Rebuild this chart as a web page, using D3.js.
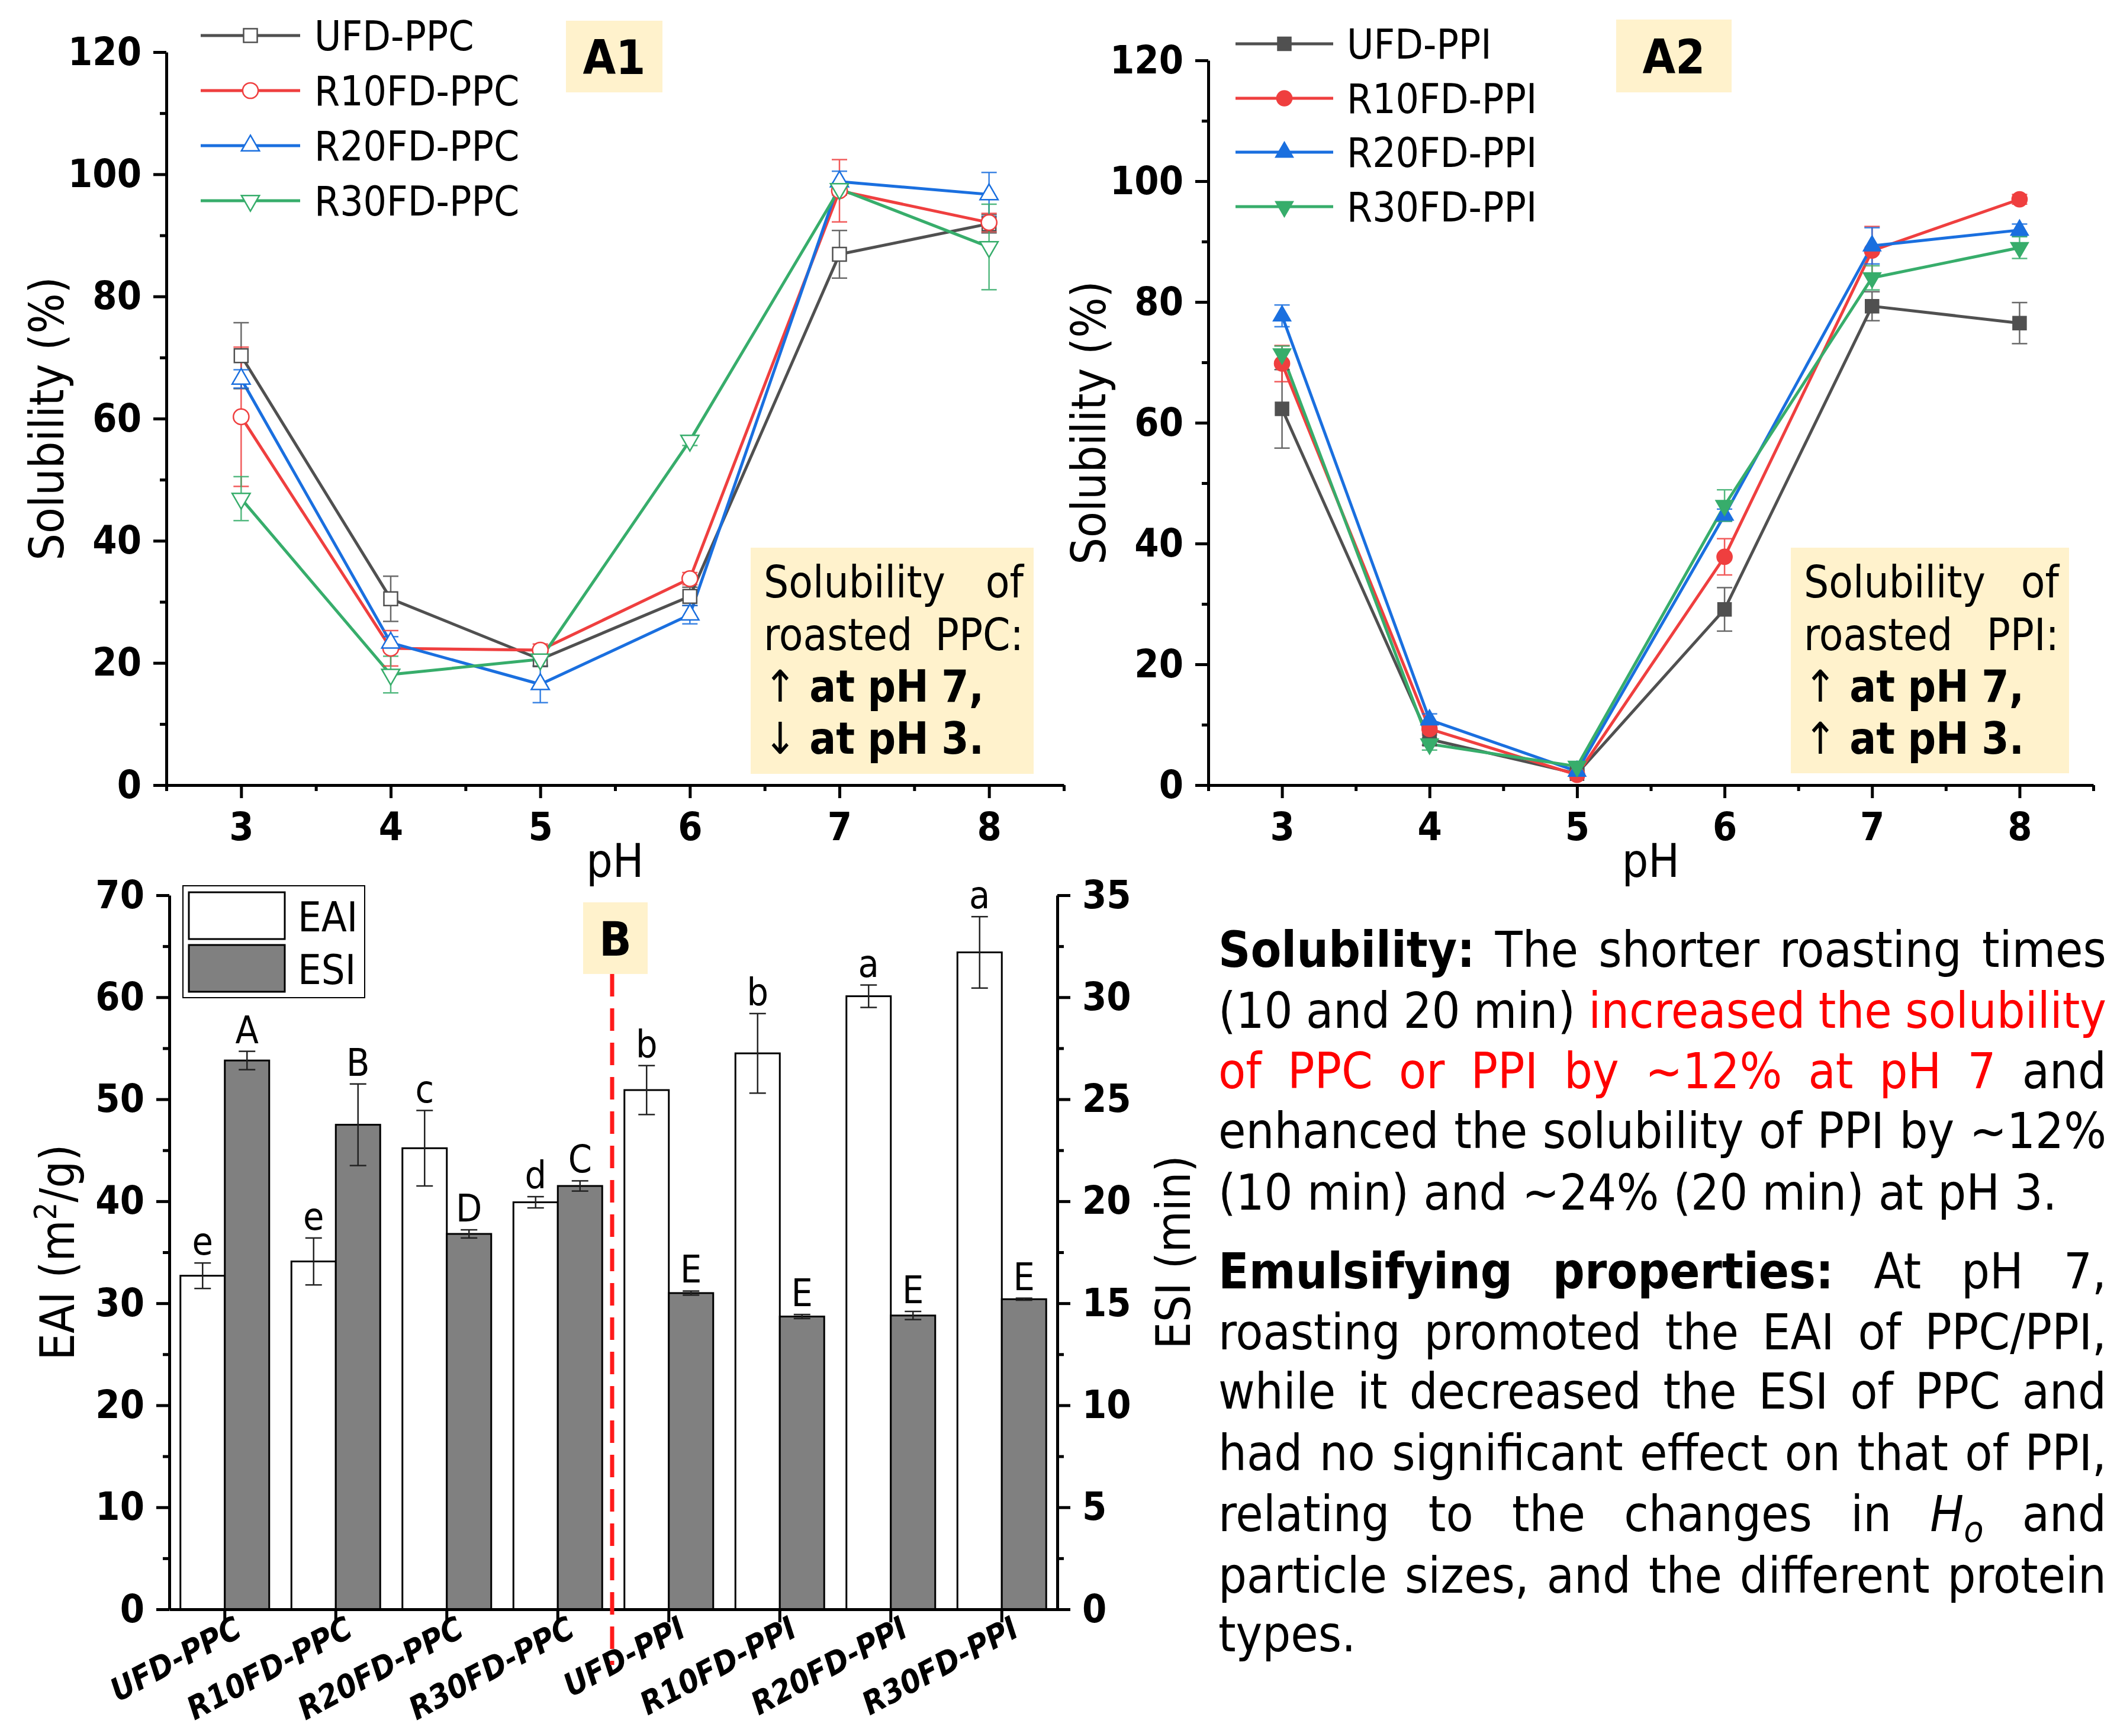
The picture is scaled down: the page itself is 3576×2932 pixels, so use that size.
<!DOCTYPE html>
<html>
<head>
<meta charset="utf-8">
<script src="https://cdn.jsdelivr.net/npm/d3@7"></script>
<style>
  body { margin: 0; background: #fff; }
  svg text { font-family: 'DejaVu Sans Condensed', 'DejaVu Sans', sans-serif; font-stretch: condensed; }
</style>
</head>
<body>
<svg id="fig" width="3576" height="2932"></svg>
<script>
// ---- data ----
const pH = [3, 4, 5, 6, 7, 8];

const ppcNames = ["UFD-PPC", "R10FD-PPC", "R20FD-PPC", "R30FD-PPC"];
const ppcMeans = [
  [70.3, 30.5, 20.6, 30.9, 86.9, 91.9],
  [60.3, 22.4, 22.1, 33.8, 97.3, 92.1],
  [66.5, 23.3, 16.5, 27.9, 98.8, 96.7],
  [46.9, 18.1, 20.6, 56.4, 97.6, 88.1]
];
const ppcErrs = [
  [5.4, 3.7, 1.2, 1.5, 3.9, 1.5],
  [11.4, 2.9, 1.0, 1.0, 5.1, 1.5],
  [1.5, 1.0, 3.0, 1.5, 1.7, 3.6],
  [3.6, 3.0, 1.0, 0.8, 1.0, 7.0]
];

const ppiNames = ["UFD-PPI", "R10FD-PPI", "R20FD-PPI", "R30FD-PPI"];
const ppiMeans = [
  [62.3, 7.6, 1.9, 29.1, 79.3, 76.5],
  [69.8, 9.3, 1.7, 37.8, 88.5, 97.0],
  [77.7, 10.8, 2.3, 44.7, 89.3, 91.9],
  [71.4, 6.8, 3.1, 46.3, 84.0, 89.0]
];
const ppiErrs = [
  [6.5, 1.0, 0.5, 3.6, 2.4, 3.4],
  [3.0, 1.0, 0.5, 3.0, 4.0, 0.8],
  [1.8, 1.0, 0.5, 1.0, 3.0, 1.0],
  [1.3, 1.0, 0.5, 2.6, 2.0, 1.8]
];

const samples = ["UFD-PPC", "R10FD-PPC", "R20FD-PPC", "R30FD-PPC", "UFD-PPI", "R10FD-PPI", "R20FD-PPI", "R30FD-PPI"];
const eai = [32.7, 34.1, 45.2, 39.9, 50.9, 54.5, 60.1, 64.4];
const eaiErr = [1.25, 2.3, 3.7, 0.55, 2.4, 3.9, 1.1, 3.5];
const eaiLetters = ["e", "e", "c", "d", "b", "b", "a", "a"];
const esi = [26.9, 23.75, 18.4, 20.75, 15.5, 14.35, 14.4, 15.2];
const esiErr = [0.45, 2.0, 0.2, 0.25, 0.1, 0.1, 0.2, 0.05];
const esiLetters = ["A", "B", "D", "C", "E", "E", "E", "E"];

const seriesColors = ["#505050", "#ef3f3f", "#1a6fdf", "#37ad6b"];
const markerTypes = ["square", "circle", "up", "down"];

const svg = d3.select("#fig");
svg.append("rect").attr("width", 3576).attr("height", 2932).attr("fill", "#fff");

const TICK_FS = 66;
const BOX_FILL = "#fff2cc";

function marker(g, type, x, y, color, filled) {
  let sym;
  if (type === "square") sym = d3.symbol(d3.symbolSquare, 530);
  else if (type === "circle") sym = d3.symbol(d3.symbolCircle, 540);
  else sym = d3.symbol(d3.symbolTriangle, 400);
  g.append("path")
    .attr("d", sym())
    .attr("transform", "translate(" + x + "," + y + ")" + (type === "down" ? " rotate(180)" : ""))
    .attr("fill", filled ? color : "#fff")
    .attr("stroke", color)
    .attr("stroke-width", filled ? 1.5 : 2.5);
}

function styleAxis(sel, fs) {
  sel.select(".domain").attr("stroke-width", 5).attr("stroke", "#000");
  sel.selectAll(".tick line").attr("stroke-width", 5).attr("stroke", "#000");
  sel.selectAll(".tick text").attr("font-size", fs).attr("font-weight", "bold").attr("fill", "#000");
}

// split styled segments into words for justified layout
function toWords(segs) {
  const words = [[]];
  segs.forEach(([txt, st]) => {
    txt.split(/( )/).forEach(p => {
      if (p === " ") { if (words[words.length - 1].length) words.push([]); }
      else if (p) words[words.length - 1].push(Object.assign({t: p}, st || {}));
    });
  });
  return words.filter(w => w.length);
}

function textLine(g, segs, x0, x1, y, size, justify) {
  const words = toWords(segs);
  const nodes = words.map(w => {
    const t = g.append("text").attr("y", y).attr("font-size", size).attr("fill", "#000");
    w.forEach(s => {
      const ts = t.append("tspan").text(s.t);
      if (s.b) ts.attr("font-weight", "bold");
      if (s.c) ts.attr("fill", s.c);
      if (s.i) ts.attr("font-style", "italic");
      if (s.sub) ts.attr("font-size", size * 0.72).attr("dy", size * 0.22);
    });
    return t;
  });
  const widths = nodes.map(n => n.node().getComputedTextLength());
  const total = d3.sum(widths);
  const gap = (justify && nodes.length > 1) ? (x1 - x0 - total) / (nodes.length - 1) : size * 0.29;
  let x = x0;
  nodes.forEach((n, i) => { n.attr("x", x); x += widths[i] + gap; });
}

function tagBox(x0, y0, x1, y1, label) {
  svg.append("rect").attr("x", x0).attr("y", y0).attr("width", x1 - x0).attr("height", y1 - y0).attr("fill", BOX_FILL);
  svg.append("text").attr("x", (x0 + x1) / 2).attr("y", (y0 + y1) / 2 + 29)
    .attr("text-anchor", "middle").attr("font-size", 80).attr("font-weight", "bold").text(label);
}

// ---- solubility panels ----
function solubilityPanel(cfg) {
  const g = svg.append("g");
  const x = d3.scaleLinear().domain([2.5, 8.5]).range([cfg.x0, cfg.x1]);
  const y = d3.scaleLinear().domain([0, 120]).range([cfg.yBot, cfg.yTop]);

  // minor ticks
  g.append("g").attr("transform", "translate(0," + cfg.yBot + ")")
    .call(d3.axisBottom(x).tickValues([2.5, 3.5, 4.5, 5.5, 6.5, 7.5, 8.5]).tickFormat("").tickSize(10).tickSizeOuter(0))
    .call(s => { s.select(".domain").remove(); s.selectAll("line").attr("stroke-width", 5); });
  g.append("g").attr("transform", "translate(" + cfg.x0 + ",0)")
    .call(d3.axisLeft(y).tickValues([10, 30, 50, 70, 90, 110]).tickFormat("").tickSize(11).tickSizeOuter(0))
    .call(s => { s.select(".domain").remove(); s.selectAll("line").attr("stroke-width", 5); });

  const xa = g.append("g").attr("transform", "translate(0," + cfg.yBot + ")")
    .call(d3.axisBottom(x).tickValues(pH).tickFormat(d3.format("d")).tickSize(22).tickSizeOuter(0).tickPadding(24));
  styleAxis(xa, TICK_FS);
  const ya = g.append("g").attr("transform", "translate(" + cfg.x0 + ",0)")
    .call(d3.axisLeft(y).tickValues([0, 20, 40, 60, 80, 100, 120]).tickSize(22).tickSizeOuter(0).tickPadding(20));
  styleAxis(ya, TICK_FS);

  g.append("text").attr("x", (cfg.x0 + cfg.x1) / 2).attr("y", cfg.yBot + 155)
    .attr("text-anchor", "middle").attr("font-size", 78).text("pH");
  g.append("text").attr("transform", "translate(" + cfg.titleX + "," + (cfg.yTop + cfg.yBot) / 2 + ") rotate(-90)")
    .attr("text-anchor", "middle").attr("font-size", 80).text("Solubility (%)");

  const line = d3.line().x((d, i) => x(pH[i])).y(d => y(d));
  cfg.means.forEach((m, s) => {
    g.append("path").attr("d", line(m)).attr("fill", "none")
      .attr("stroke", seriesColors[s]).attr("stroke-width", 5).attr("stroke-linejoin", "round");
  });
  cfg.means.forEach((m, s) => {
    m.forEach((v, i) => {
      const cx = x(pH[i]), e = cfg.errs[s][i];
      const eg = g.append("g").attr("stroke", seriesColors[s]).attr("stroke-width", 2.5).attr("opacity", 0.85);
      eg.append("line").attr("x1", cx).attr("x2", cx).attr("y1", y(v - e)).attr("y2", y(v + e));
      [v - e, v + e].forEach(b => eg.append("line").attr("x1", cx - 13).attr("x2", cx + 13).attr("y1", y(b)).attr("y2", y(b)));
    });
  });
  cfg.means.forEach((m, s) => {
    m.forEach((v, i) => marker(g, markerTypes[s], x(pH[i]), y(v), seriesColors[s], cfg.filled));
  });

  // legend
  cfg.names.forEach((n, s) => {
    const ly = cfg.legY[s];
    g.append("line").attr("x1", cfg.legX[0]).attr("x2", cfg.legX[1]).attr("y1", ly).attr("y2", ly)
      .attr("stroke", seriesColors[s]).attr("stroke-width", 5);
    marker(g, markerTypes[s], (cfg.legX[0] + cfg.legX[1]) / 2, ly, seriesColors[s], cfg.filled);
    g.append("text").attr("x", cfg.legX[2]).attr("y", ly + 25).attr("font-size", 69).text(n);
  });

  // note box
  const b = cfg.note;
  g.append("rect").attr("x", b.x0).attr("y", b.y0).attr("width", b.x1 - b.x0).attr("height", b.y1 - b.y0).attr("fill", BOX_FILL);
  const tl = b.x0 + 22, tr = b.x1 - 17, fs = 74;
  textLine(g, [["Solubility of"]], tl, tr, 1009, fs, true);
  textLine(g, [["roasted " + cfg.kind + ":"]], tl, tr, 1098, fs, true);
  textLine(g, [["↑ "], ["at pH 7,", {b: true}]], tl, tr, 1185, fs, false);
  textLine(g, [[cfg.arrow3 + " "], ["at pH 3.", {b: true}]], tl, tr, 1273, fs, false);
}

solubilityPanel({
  x0: 281, x1: 1797, yTop: 88, yBot: 1326, titleX: 107,
  means: ppcMeans, errs: ppcErrs, names: ppcNames, filled: false,
  legX: [339, 507, 531], legY: [60, 153, 246, 339],
  note: {x0: 1268, y0: 925, x1: 1746, y1: 1307}, kind: "PPC", arrow3: "↓"
});
solubilityPanel({
  x0: 2041, x1: 3536, yTop: 102, yBot: 1326, titleX: 1867,
  means: ppiMeans, errs: ppiErrs, names: ppiNames, filled: true,
  legX: [2087, 2252, 2275], legY: [74, 166, 257, 349],
  note: {x0: 3025, y0: 925, x1: 3495, y1: 1306}, kind: "PPI", arrow3: "↑"
});
tagBox(956, 35, 1119, 156, "A1");
tagBox(2730, 33, 2925, 156, "A2");

// ---- emulsifying panel ----
(function () {
  const g = svg.append("g");
  const x0 = 286, x1 = 1786, yBot = 2718, yTop = 1512;
  const x = d3.scaleBand().domain(samples).range([x0, x1]);
  const yL = d3.scaleLinear().domain([0, 70]).range([yBot, yTop]);
  const yR = d3.scaleLinear().domain([0, 35]).range([yBot, yTop]);
  const bw = 75;

  // bars
  samples.forEach((s, i) => {
    const c = x(s) + x.bandwidth() / 2;
    g.append("rect").attr("x", c - bw).attr("y", yL(eai[i])).attr("width", bw).attr("height", yBot - yL(eai[i]))
      .attr("fill", "#fff").attr("stroke", "#000").attr("stroke-width", 3);
    g.append("rect").attr("x", c).attr("y", yR(esi[i])).attr("width", bw).attr("height", yBot - yR(esi[i]))
      .attr("fill", "#808080").attr("stroke", "#000").attr("stroke-width", 3);
    [[c - bw / 2, yL, eai[i], eaiErr[i], eaiLetters[i]], [c + bw / 2, yR, esi[i], esiErr[i], esiLetters[i]]].forEach(([cx, sc, v, e, lab]) => {
      const eg = g.append("g").attr("stroke", "#222").attr("stroke-width", 2.5);
      eg.append("line").attr("x1", cx).attr("x2", cx).attr("y1", sc(v - e)).attr("y2", sc(v + e));
      [v - e, v + e].forEach(b => eg.append("line").attr("x1", cx - 14).attr("x2", cx + 14).attr("y1", sc(b)).attr("y2", sc(b)));
      g.append("text").attr("x", cx).attr("y", sc(v + e) - 14).attr("text-anchor", "middle")
        .attr("font-size", 64).text(lab);
    });
  });

  // axes
  g.append("g").attr("transform", "translate(" + x0 + ",0)")
    .call(d3.axisLeft(yL).tickValues([5, 15, 25, 35, 45, 55, 65]).tickFormat("").tickSize(11).tickSizeOuter(0))
    .call(s => { s.select(".domain").remove(); s.selectAll("line").attr("stroke-width", 5); });
  g.append("g").attr("transform", "translate(" + x1 + ",0)")
    .call(d3.axisRight(yR).tickValues([2.5, 7.5, 12.5, 17.5, 22.5, 27.5, 32.5]).tickFormat("").tickSize(11).tickSizeOuter(0))
    .call(s => { s.select(".domain").remove(); s.selectAll("line").attr("stroke-width", 5); });
  const la = g.append("g").attr("transform", "translate(" + x0 + ",0)")
    .call(d3.axisLeft(yL).ticks(7).tickSize(22).tickSizeOuter(0).tickPadding(20));
  styleAxis(la, TICK_FS);
  const ra = g.append("g").attr("transform", "translate(" + x1 + ",0)")
    .call(d3.axisRight(yR).ticks(7).tickSize(22).tickSizeOuter(0).tickPadding(20));
  styleAxis(ra, TICK_FS);
  const xa = g.append("g").attr("transform", "translate(0," + yBot + ")")
    .call(d3.axisBottom(x).tickSize(22).tickSizeOuter(0));
  styleAxis(xa, 54);
  xa.selectAll(".tick text").attr("font-style", "italic").attr("text-anchor", "end")
    .attr("dy", 0).attr("y", 0).attr("transform", "translate(32,44) rotate(-28)");

  g.append("text").attr("transform", "translate(125," + (yTop + yBot) / 2 + ") rotate(-90)")
    .attr("text-anchor", "middle").attr("font-size", 80)
    .call(t => {
      t.append("tspan").text("EAI (m");
      t.append("tspan").text("2").attr("font-size", 52).attr("dy", -30);
      t.append("tspan").text("/g)").attr("dy", 30);
    });
  g.append("text").attr("transform", "translate(2010," + (yTop + yBot) / 2 + ") rotate(-90)")
    .attr("text-anchor", "middle").attr("font-size", 80).text("ESI (min)");

  // legend
  g.append("rect").attr("x", 309).attr("y", 1496).attr("width", 307).attr("height", 189)
    .attr("fill", "#fff").attr("stroke", "#000").attr("stroke-width", 2);
  [["EAI", "#fff", 1507], ["ESI", "#808080", 1596]].forEach(([lab, fill, ry]) => {
    g.append("rect").attr("x", 319).attr("y", ry).attr("width", 162).attr("height", 79)
      .attr("fill", fill).attr("stroke", "#000").attr("stroke-width", 3);
    g.append("text").attr("x", 503).attr("y", ry + 66).attr("font-size", 70).text(lab);
  });

  // divider
  const dx = x(samples[4]);
  g.append("line").attr("x1", dx - 2).attr("x2", dx - 2).attr("y1", 1645).attr("y2", 2812)
    .attr("stroke", "#ff1a1a").attr("stroke-width", 7).attr("stroke-dasharray", "38,20");
})();
tagBox(985, 1524, 1094, 1645, "B");

// ---- summary text ----
(function () {
  const g = svg.append("g");
  const L = 2058, R = 3558, fs = 84, red = "#ff0000";
  const lines = [
    [[[ "Solubility:", {b: true}], [" The shorter roasting times"]], 1633, true],
    [[["(10 and 20 min) "], ["increased the solubility", {c: red}]], 1736, true],
    [[["of PPC or PPI by ~12% at pH 7", {c: red}], [" and"]], 1838, true],
    [[["enhanced the solubility of PPI by ~12%"]], 1939, true],
    [[["(10 min) and ~24% (20 min) at pH 3."]], 2043, false],
    [[["Emulsifying properties:", {b: true}], [" At pH 7,"]], 2176, true],
    [[["roasting promoted the EAI of PPC/PPI,"]], 2279, true],
    [[["while it decreased the ESI of PPC and"]], 2379, true],
    [[["had no significant effect on that of PPI,"]], 2483, true],
    [[["relating to the changes in "], ["H", {i: true}], ["o", {i: true, sub: true}], [" and"]], 2586, true],
    [[["particle sizes, and the different protein"]], 2690, true],
    [[["types."]], 2789, false]
  ];
  lines.forEach(([segs, y, j]) => textLine(g, segs, L, R, y, fs, j));
})();
</script>
</body>
</html>
